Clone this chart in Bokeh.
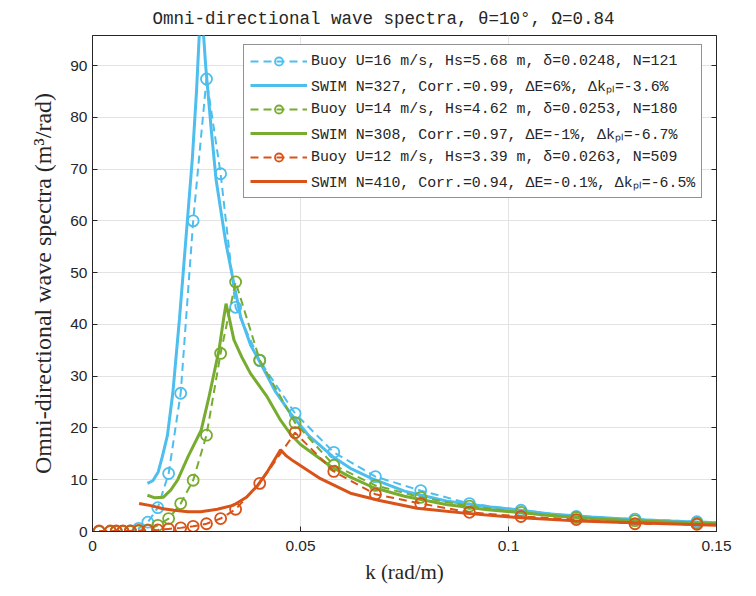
from bokeh.plotting import figure
from bokeh.models import (Range1d, FixedTicker, LinearAxis, Legend, LegendItem,
                          CustomJSTickFormatter)
from bokeh.embed import file_html
from bokeh.resources import INLINE

# ---- data -------------------------------------------------------------
# wavenumbers of the buoy frequency bands (rad/m)
buoy_k = [0.0016, 0.0043, 0.0057, 0.0073, 0.0091, 0.0111, 0.0133, 0.0157,
          0.0183, 0.0212, 0.0242, 0.0274, 0.0308, 0.0344, 0.0402, 0.0487,
          0.0580, 0.0680, 0.0789, 0.0906, 0.1030, 0.1163, 0.1304, 0.1453,
          0.1611]
buoy_u16 = [0.0, 0.0, 0.0, 0.0, 0.1, 0.6, 1.8, 4.6, 11.2, 26.7, 60.0, 87.4,
            69.1, 43.3, 33.0, 22.8, 15.3, 10.6, 7.9, 5.4, 4.1, 2.9, 2.4, 1.9,
            1.6]
buoy_u14 = [0.0, 0.0, 0.0, 0.0, 0.0, 0.1, 0.3, 1.2, 2.5, 5.4, 9.9, 18.6,
            34.4, 48.2, 33.1, 21.0, 12.8, 8.9, 6.6, 4.9, 3.7, 2.7, 2.1, 1.6,
            1.4]
buoy_u12 = [0.1, 0.1, 0.1, 0.1, 0.1, 0.2, 0.2, 0.3, 0.5, 0.7, 1.0, 1.5,
            2.5, 4.3, 9.3, 19.1, 11.6, 7.2, 5.4, 3.7, 2.9, 2.3, 1.5, 1.4,
            1.2]

swim_k_u16 = [0.0132, 0.0145, 0.0158, 0.0168, 0.018, 0.0193, 0.0209, 0.0217,
              0.0228, 0.024, 0.025, 0.0261, 0.0272, 0.0285, 0.0297, 0.032,
              0.0337, 0.0356, 0.038, 0.0404, 0.044, 0.0476, 0.052, 0.0577,
              0.062, 0.0672, 0.075, 0.085, 0.095, 0.102, 0.11, 0.12, 0.13,
              0.14, 0.15]
swim_u16 = [9.3, 9.8, 11.5, 14.5, 18.5, 26.7, 41, 49, 60, 72, 85, 103, 90,
            78, 68, 56, 49, 41.5, 36, 32.5, 27, 22.8, 18.5, 14.5, 12.2, 10.2,
            7.8, 5.9, 4.8, 4.2, 3.4, 2.8, 2.3, 2.0, 1.7]

swim_k_u14 = [0.0132, 0.015, 0.017, 0.0188, 0.0205, 0.023, 0.0261, 0.028,
              0.0304, 0.0315, 0.0321, 0.0328, 0.034, 0.036, 0.038, 0.042,
              0.0452, 0.0476, 0.05, 0.0572, 0.062, 0.0675, 0.075, 0.085,
              0.095, 0.102, 0.11, 0.12, 0.13, 0.14, 0.15]
swim_u14 = [7.0, 6.5, 6.6, 8.0, 10.0, 14.5, 19.5, 26, 35, 41, 44, 41.5, 37,
            33.5, 30.5, 26, 21.5, 18.8, 16.8, 12.6, 10.5, 8.5, 6.8, 5.2, 4.2,
            3.7, 3.1, 2.5, 2.1, 1.8, 1.5]

swim_k_u12 = [0.0112, 0.014, 0.017, 0.0196, 0.023, 0.026, 0.030, 0.034,
              0.037, 0.0397, 0.042, 0.0452, 0.0466, 0.0483, 0.0548, 0.062,
              0.069, 0.078, 0.09, 0.102, 0.115, 0.13, 0.15]
swim_u12 = [5.4, 5.0, 4.4, 4.1, 3.8, 3.8, 4.3, 5.1, 6.6, 8.9, 11.5, 15.8,
            14.6, 13.6, 10.2, 7.4, 6.0, 4.5, 3.5, 2.7, 2.1, 1.7, 1.2]

buoy_labels = [
    "Buoy U=16 m/s, Hs=5.68 m, δ=0.0248, N=121",
    "Buoy U=14 m/s, Hs=4.62 m, δ=0.0253, N=180",
    "Buoy U=12 m/s, Hs=3.39 m, δ=0.0263, N=509",
]
swim_labels = [
    "SWIM N=327, Corr.=0.99, ΔE=6%, Δkₚₗ=-3.6%",
    "SWIM N=308, Corr.=0.97, ΔE=-1%, Δkₚₗ=-6.7%",
    "SWIM N=410, Corr.=0.94, ΔE=-0.1%, Δkₚₗ=-6.5%",
]
colors = ["#4DBEEE", "#77AC30", "#D95319"]

x_ticks = [0, 0.05, 0.1, 0.15]
x_tick_labels = ["0", "0.05", "0.1", "0.15"]
y_ticks = [0, 10, 20, 30, 40, 50, 60, 70, 80, 90]

# ---- figure -----------------------------------------------------------
AX = "#262626"
p = figure(width=756, height=596, output_backend="svg", toolbar_location=None,
           x_range=Range1d(0, 0.15), y_range=Range1d(0, 95.8),
           min_border_left=92, min_border_right=40,
           min_border_top=35, min_border_bottom=65)

p.title.text = "Omni-directional wave spectra, θ=10°, Ω=0.84"
p.title.text_font = "Liberation Mono"
p.title.text_font_size = "17.5px"
p.title.text_font_style = "normal"
p.title.text_color = AX
p.title.align = "left"
p.title.offset = 60
p.title.standoff = 13

p.outline_line_color = AX
p.grid.grid_line_color = "#e3e3e3"
p.grid.grid_line_width = 1
p.xgrid.ticker = FixedTicker(ticks=x_ticks)
p.ygrid.ticker = FixedTicker(ticks=y_ticks)

for ax in (p.xaxis[0], p.yaxis[0]):
    ax.axis_line_color = AX
    ax.major_tick_line_color = AX
    ax.major_tick_in = 5
    ax.major_tick_out = 0
    ax.minor_tick_line_color = None
    ax.major_label_text_font = "Liberation Sans"
    ax.major_label_text_font_size = "15.5px"
    ax.major_label_text_color = AX
    ax.axis_label_text_font = "Liberation Serif"
    ax.axis_label_text_font_style = "normal"
    ax.axis_label_text_color = AX

p.xaxis[0].ticker = FixedTicker(ticks=x_ticks)
p.xaxis[0].major_label_overrides = dict(zip(x_ticks, x_tick_labels))
p.xaxis[0].major_label_standoff = 9
p.xaxis[0].axis_label = "k (rad/m)"
p.xaxis[0].axis_label_text_font_size = "21px"
p.xaxis[0].axis_label_standoff = 6

p.yaxis[0].ticker = FixedTicker(ticks=y_ticks)
p.yaxis[0].major_label_standoff = 5
p.yaxis[0].axis_label = "Omni-directional wave spectra (m³/rad)"
p.yaxis[0].axis_label_text_font_size = "24px"
p.yaxis[0].axis_label_standoff = 11

# mirrored tick marks on the right edge of the box
right_ax = LinearAxis(ticker=FixedTicker(ticks=y_ticks),
                      formatter=CustomJSTickFormatter(code="return ''"))
right_ax.axis_line_color = AX
right_ax.major_tick_line_color = AX
right_ax.major_tick_in = 5
right_ax.major_tick_out = 0
right_ax.minor_tick_line_color = None
right_ax.major_label_standoff = 0
p.add_layout(right_ax, "right")

# ---- series -----------------------------------------------------------
buoy_series = [buoy_u16, buoy_u14, buoy_u12]
swim_series = [(swim_k_u16, swim_u16), (swim_k_u14, swim_u14),
               (swim_k_u12, swim_u12)]

items = []
for i, c in enumerate(colors):
    dash_r = p.line(buoy_k, buoy_series[i], line_color=c, line_width=2,
                    line_dash="8 5")
    mark_r = p.scatter(buoy_k, buoy_series[i], marker="circle", size=11,
                       fill_color=None, line_color=c, line_width=1.8)
    sk, sv = swim_series[i]
    solid_r = p.line(sk, sv, line_color=c, line_width=3)
    items.append(LegendItem(label=buoy_labels[i], renderers=[dash_r, mark_r]))
    items.append(LegendItem(label=swim_labels[i], renderers=[solid_r]))

# location is (left, bottom) of the legend box, in pixels from the
# bottom-left corner of the plot frame
legend = Legend(items=items, location=(151, 333))
legend.label_text_font = "Liberation Mono"
legend.label_text_font_size = "14.9px"
legend.label_text_color = AX
legend.glyph_width = 57
legend.glyph_height = 20
legend.label_height = 20
legend.label_standoff = 4
legend.spacing = 4
legend.padding = 6
legend.margin = 0
legend.border_line_color = AX
legend.border_line_width = 1
legend.background_fill_color = "white"
legend.background_fill_alpha = 1
p.add_layout(legend, "center")

open("out.html", "w").write(file_html(p, INLINE))
